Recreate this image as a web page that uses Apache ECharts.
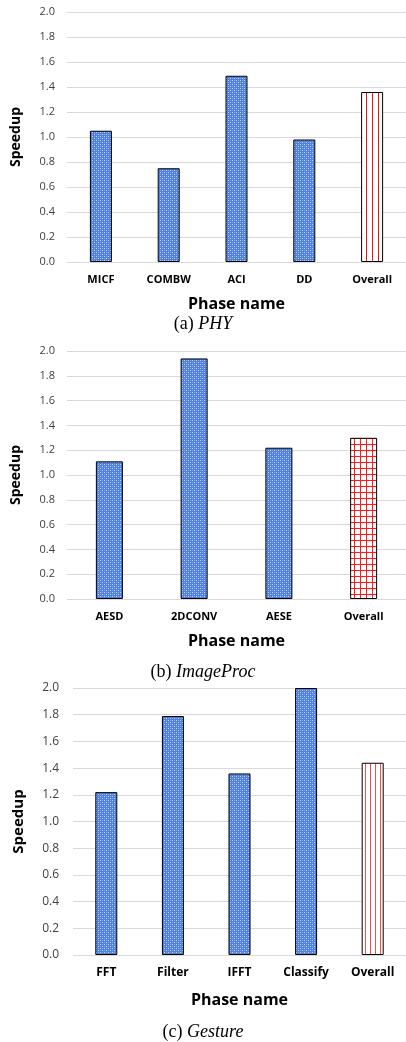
<!DOCTYPE html>
<html>
<head>
<meta charset="utf-8">
<script src="https://cdn.jsdelivr.net/npm/echarts@6/dist/echarts.min.js"></script>
<style>html,body{margin:0;padding:0;background:#fff;}#c{width:406px;height:1042px;}</style>
</head>
<body>
<div id="c"></div>
<script>
// ---- data ----
const phyCats = ['MICF', 'COMBW', 'ACI', 'DD', 'Overall'];
const phyVals = [1.05, 0.75, 1.49, 0.98, 1.36];
const imgCats = ['AESD', '2DCONV', 'AESE', 'Overall'];
const imgVals = [1.11, 1.94, 1.22, 1.30];
const gesCats = ['FFT', 'Filter', 'IFFT', 'Classify', 'Overall'];
const gesVals = [1.22, 1.79, 1.36, 2.0, 1.44];
const captions = [['(a) ', 'PHY'], ['(b) ', 'ImageProc'], ['(c) ', 'Gesture']];
const yMin = 0, yMax = 2.0, yStep = 0.2;
const xName = 'Phase name', yName = 'Speedup';

// ---- patterns ----
function pat(w, h, draw) {
  const c = document.createElement('canvas'); c.width = w; c.height = h;
  const g = c.getContext('2d'); draw(g); return { image: c, repeat: 'repeat' };
}
const bluePat = pat(4, 4, g => {
  g.fillStyle = '#4F80DE'; g.fillRect(0, 0, 4, 4);
  g.fillStyle = '#C4D6F6'; g.fillRect(0, 0, 1, 1); g.fillRect(2, 2, 1, 1);
  g.fillStyle = '#7FA3E8'; g.fillRect(2, 0, 1, 1); g.fillRect(0, 2, 1, 1);
});
const vLinePat = pat(6, 6, g => {
  g.fillStyle = '#fff'; g.fillRect(0, 0, 6, 6);
  g.fillStyle = '#E8141C'; g.fillRect(0, 0, 1, 6);
});
const gridPat = pat(6, 6, g => {
  g.fillStyle = '#fff'; g.fillRect(0, 0, 6, 6);
  g.fillStyle = '#FF1A1A'; g.fillRect(0, 0, 1, 6); g.fillRect(0, 0, 6, 1);
});
const vLinePat2 = pat(5, 5, g => {
  g.fillStyle = '#fff'; g.fillRect(0, 0, 5, 5);
  g.fillStyle = '#F05050'; g.fillRect(0, 0, 1, 5);
});

const font = '"Open Sans", "Liberation Sans", sans-serif';
const serif = '"Liberation Serif", "DejaVu Serif", serif';

const grids = [
  { left: 67, right: 0, top: 12, height: 250 },
  { left: 67, right: 0, top: 351, height: 248 },
  { left: 73, right: 0, top: 688, height: 267 }
];
const cats = [phyCats, imgCats, gesCats];
const vals = [phyVals, imgVals, gesVals];
const overallPats = [vLinePat, gridPat, vLinePat2];
const barW = [22, 27, 22];
const tickSize = [11, 11, 12];
const ySizes = [14, 14, 15];
const xNameGap = [34, 34, 37];

const option = {
  animation: false,
  backgroundColor: '#fff',
  grid: grids,
  title: captions.map((c, i) => ({
    text: '{n|' + c[0] + '}{i|' + c[1] + '}',
    left: 'center',
    top: [310, 658, 1018][i],
    textStyle: {
      fontWeight: 'normal',
      rich: {
        n: { fontFamily: serif, fontSize: 18, fontWeight: 'normal', color: '#000' },
        i: { fontFamily: serif, fontSize: 18, fontWeight: 'normal', fontStyle: 'italic', color: '#000' }
      }
    }
  })),
  xAxis: cats.map((cs, i) => ({
    type: 'category', gridIndex: i, data: cs,
    axisLine: { show: false }, axisTick: { show: false },
    axisLabel: { margin: 12, fontFamily: font, fontWeight: 'bold', fontSize: tickSize[i], color: '#000' },
    name: xName, nameLocation: 'middle', nameGap: xNameGap[i],
    nameTextStyle: { fontFamily: font, fontWeight: 'bold', fontSize: 16, color: '#000' }
  })),
  yAxis: cats.map((cs, i) => ({
    type: 'value', gridIndex: i, min: yMin, max: yMax, interval: yStep,
    axisLine: { show: false }, axisTick: { show: false },
    splitLine: { lineStyle: { color: '#D9D9D9', width: 1 } },
    axisLabel: { margin: i === 2 ? 14 : 12, fontFamily: font, fontSize: tickSize[i], color: '#404040',
      formatter: v => v.toFixed(1) },
    name: yName, nameLocation: 'middle', nameGap: i === 2 ? 47 : 44, nameRotate: 90,
    nameTextStyle: { fontFamily: font, fontWeight: 'bold', fontSize: ySizes[i], color: '#000' }
  })),
  series: vals.map((vs, i) => ({
    type: 'bar', xAxisIndex: i, yAxisIndex: i, barWidth: barW[i],
    data: vs.map((v, j) => ({
      value: v,
      itemStyle: {
        color: cats[i][j] === 'Overall' ? overallPats[i] : bluePat,
        borderColor: '#000', borderWidth: 1
      }
    }))
  }))
};
echarts.init(document.getElementById('c'), null, { renderer: 'canvas' }).setOption(option);
</script>
</body>
</html>
